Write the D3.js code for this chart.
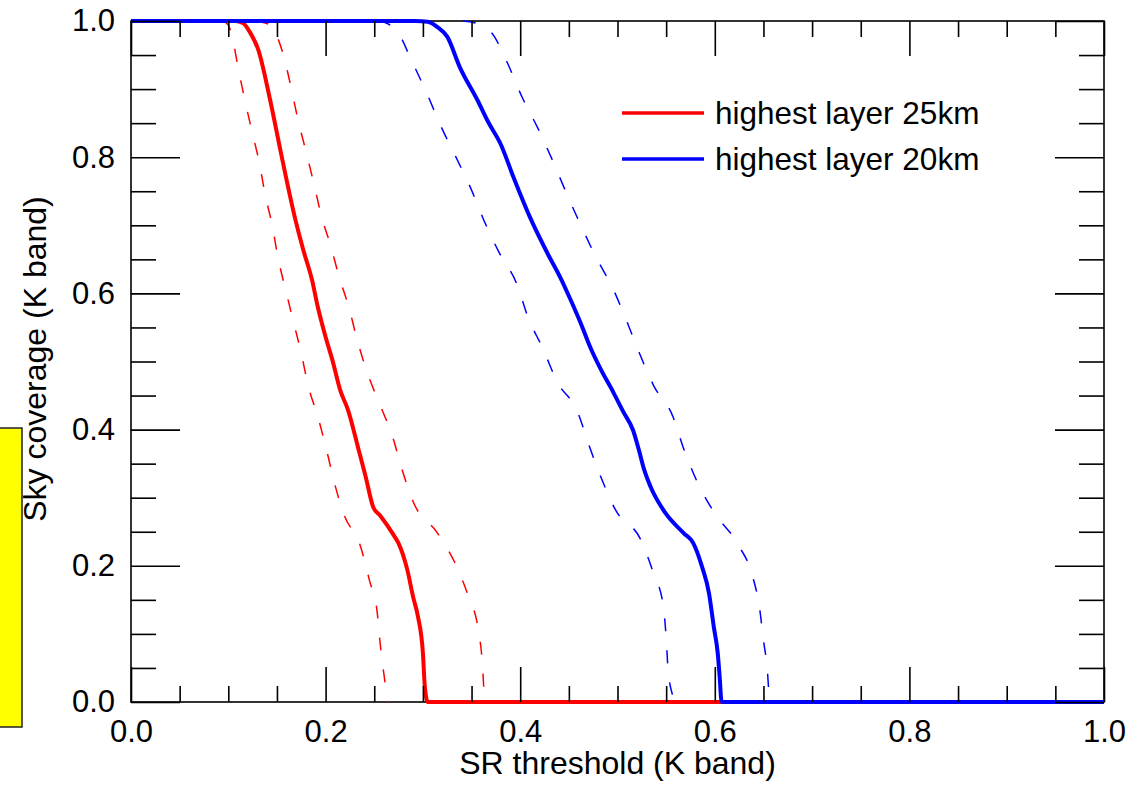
<!DOCTYPE html>
<html>
  <head>
    <script src="https://cdn.jsdelivr.net/npm/d3@7"></script>
    <style>
      body { margin: 0; background: #fff; }
      text { font-family: "Liberation Sans", Arial, Helvetica, sans-serif; fill: #000; }
    </style>
  </head>

  <body>
    <svg width="1137" height="785"></svg>

    <script type="text/javascript">
      // ---- data ----
      var xMajor = [0, 0.2, 0.4, 0.6, 0.8, 1.0];
      var yMajor = [0, 0.2, 0.4, 0.6, 0.8, 1.0];
      var minorTicks = d3.range(0, 1.0001, 0.05).map((d) => +d.toFixed(2));

      // highest layer 25km, median (solid)
      var red25X = [0, 0.107, 0.115, 0.122, 0.131, 0.143, 0.155, 0.169, 0.177, 0.186, 0.192, 0.200,
        0.207, 0.215, 0.223, 0.234, 0.241, 0.249, 0.256, 0.270, 0.275, 0.284, 0.290, 0.295, 0.300,
        0.302, 0.305, 1.0];
      var red25Y = [1, 1, 0.997, 0.984, 0.957, 0.884, 0.800, 0.708, 0.664, 0.620, 0.580, 0.536,
        0.502, 0.458, 0.429, 0.370, 0.332, 0.286, 0.274, 0.245, 0.233, 0.194, 0.154, 0.125, 0.072,
        0.022, 0, 0];
      // highest layer 25km, lower / upper bounds (dashed)
      var red25LoX = [0.094, 0.100, 0.104, 0.110, 0.117, 0.124, 0.132, 0.138, 0.145, 0.151, 0.159,
        0.167, 0.175, 0.182, 0.192, 0.201, 0.209, 0.219, 0.236, 0.245, 0.253, 0.256, 0.260, 0.264];
      var red25LoY = [1, 0.994, 0.977, 0.932, 0.884, 0.840, 0.791, 0.744, 0.701, 0.653, 0.605,
        0.558, 0.512, 0.465, 0.419, 0.370, 0.322, 0.275, 0.228, 0.179, 0.132, 0.087, 0.040, 0];
      var red25HiX = [0.128, 0.138, 0.143, 0.156, 0.164, 0.171, 0.179, 0.187, 0.196, 0.205, 0.214,
        0.224, 0.233, 0.243, 0.256, 0.269, 0.278, 0.290, 0.315, 0.334, 0.347, 0.357, 0.361, 0.363,
        0.365];
      var red25HiY = [1, 0.997, 0.994, 0.953, 0.906, 0.859, 0.813, 0.767, 0.712, 0.671, 0.624,
        0.579, 0.529, 0.483, 0.436, 0.389, 0.344, 0.294, 0.248, 0.201, 0.154, 0.106, 0.059, 0.013, 0];

      // highest layer 20km, median (solid)
      var blue20X = [0, 0.292, 0.305, 0.315, 0.325, 0.338, 0.356, 0.367, 0.380, 0.393, 0.410, 0.428,
        0.441, 0.452, 0.462, 0.472, 0.483, 0.496, 0.506, 0.516, 0.522, 0.527, 0.534, 0.549, 0.568,
        0.578, 0.587, 0.594, 0.599, 0.603, 0.605, 0.607, 1.0];
      var blue20Y = [1, 1, 0.999, 0.991, 0.977, 0.932, 0.884, 0.852, 0.819, 0.771, 0.712, 0.659,
        0.624, 0.590, 0.557, 0.521, 0.488, 0.454, 0.426, 0.399, 0.370, 0.343, 0.316, 0.278, 0.248,
        0.233, 0.198, 0.160, 0.110, 0.072, 0.037, 0, 0];
      // highest layer 20km, lower / upper bounds (dashed)
      var blue20LoX = [0.254, 0.264, 0.275, 0.288, 0.304, 0.318, 0.334, 0.349, 0.364, 0.378, 0.397,
        0.408, 0.423, 0.438, 0.459, 0.470, 0.483, 0.498, 0.524, 0.537, 0.547, 0.550, 0.552, 0.557,
        0.558];
      var blue20LoY = [1, 0.996, 0.982, 0.943, 0.894, 0.847, 0.800, 0.755, 0.703, 0.661, 0.612,
        0.565, 0.520, 0.470, 0.426, 0.380, 0.330, 0.282, 0.238, 0.189, 0.142, 0.095, 0.047, 0.007, 0];
      var blue20HiX = [0.341, 0.354, 0.371, 0.387, 0.402, 0.418, 0.433, 0.447, 0.462, 0.478, 0.495,
        0.509, 0.522, 0.537, 0.557, 0.568, 0.582, 0.599, 0.624, 0.639, 0.646, 0.650, 0.654, 0.656,
        0.657];
      var blue20HiY = [1, 0.997, 0.982, 0.938, 0.888, 0.843, 0.796, 0.749, 0.701, 0.653, 0.608,
        0.561, 0.514, 0.465, 0.419, 0.372, 0.323, 0.279, 0.231, 0.184, 0.138, 0.091, 0.047, 0.007, 0];

      var legendLabels = ["highest layer 25km", "highest layer 20km"];
      var legendColors = ["#ff0000", "#0000ff"];

      // ---- layout ----
      var svg = d3.select("svg");
      var plotL = 131, plotR = 1104, plotT = 21, plotB = 702;

      var xScale = d3.scaleLinear().domain([0, 1]).range([plotL, plotR]);
      var yScale = d3.scaleLinear().domain([0, 1]).range([plotB, plotT]);

      var zip = (xs, ys) => xs.map((x, i) => [x, ys[i]]);
      var lineGenerator = d3
        .line()
        .x((d) => xScale(d[0]))
        .y((d) => yScale(d[1]))
        .curve(d3.curveMonotoneX);

      // little yellow box at the left edge
      svg.append("rect")
        .attr("x", -2)
        .attr("y", 428)
        .attr("width", 24)
        .attr("height", 299)
        .attr("fill", "#ffff00")
        .attr("stroke", "#222")
        .attr("stroke-width", 1.5);

      // frame
      svg.append("rect")
        .attr("x", plotL)
        .attr("y", plotT)
        .attr("width", plotR - plotL)
        .attr("height", plotB - plotT)
        .attr("fill", "none")
        .attr("stroke", "#000")
        .attr("stroke-width", 1.6);

      // curves
      var dashed = [
        [red25LoX, red25LoY, legendColors[0]],
        [red25HiX, red25HiY, legendColors[0]],
        [blue20LoX, blue20LoY, legendColors[1]],
        [blue20HiX, blue20HiY, legendColors[1]],
      ];
      svg.selectAll(".dashed")
        .data(dashed)
        .enter()
        .append("path")
        .attr("class", "dashed")
        .attr("fill", "none")
        .attr("stroke", (d) => d[2])
        .attr("stroke-width", 1.5)
        .attr("stroke-dasharray", "13,19")
        .attr("d", (d) => lineGenerator(zip(d[0], d[1])));

      var solid = [
        [red25X, red25Y, legendColors[0]],
        [blue20X, blue20Y, legendColors[1]],
      ];
      svg.selectAll(".solid")
        .data(solid)
        .enter()
        .append("path")
        .attr("class", "solid")
        .attr("fill", "none")
        .attr("stroke", (d) => d[2])
        .attr("stroke-width", 4)
        .attr("stroke-linejoin", "round")
        .attr("d", (d) => lineGenerator(zip(d[0], d[1])));

      // axes (ticks point inward on all four sides)
      function styleAxis(g) {
        g.select(".domain").remove();
        g.selectAll(".tick line").attr("stroke", "#000").attr("stroke-width", 1.6);
        g.selectAll(".tick text")
          .style("font-family", '"Liberation Sans", Arial, sans-serif')
          .style("font-size", "31px")
          .attr("fill", "#000");
      }
      var fmt = d3.format(".1f");
      var minorOnly = minorTicks.filter((d) => xMajor.indexOf(d) < 0);

      svg.append("g")
        .attr("transform", "translate(0," + plotB + ")")
        .call(d3.axisBottom(xScale).tickValues(xMajor).tickSize(-35).tickPadding(18).tickFormat(fmt))
        .call(styleAxis);
      svg.append("g")
        .attr("transform", "translate(0," + plotB + ")")
        .call(d3.axisBottom(xScale).tickValues(minorOnly).tickSize(-16).tickFormat(""))
        .call(styleAxis);
      svg.append("g")
        .attr("transform", "translate(0," + plotT + ")")
        .call(d3.axisTop(xScale).tickValues(xMajor).tickSize(-35).tickFormat(""))
        .call(styleAxis);
      svg.append("g")
        .attr("transform", "translate(0," + plotT + ")")
        .call(d3.axisTop(xScale).tickValues(minorOnly).tickSize(-16).tickFormat(""))
        .call(styleAxis);

      svg.append("g")
        .attr("transform", "translate(" + plotL + ",0)")
        .call(d3.axisLeft(yScale).tickValues(yMajor).tickSize(-49).tickPadding(16).tickFormat(fmt))
        .call(styleAxis);
      svg.append("g")
        .attr("transform", "translate(" + plotL + ",0)")
        .call(d3.axisLeft(yScale).tickValues(minorOnly).tickSize(-25).tickFormat(""))
        .call(styleAxis);
      svg.append("g")
        .attr("transform", "translate(" + plotR + ",0)")
        .call(d3.axisRight(yScale).tickValues(yMajor).tickSize(-49).tickFormat(""))
        .call(styleAxis);
      svg.append("g")
        .attr("transform", "translate(" + plotR + ",0)")
        .call(d3.axisRight(yScale).tickValues(minorOnly).tickSize(-25).tickFormat(""))
        .call(styleAxis);

      // axis titles
      svg.append("text")
        .attr("x", (plotL + plotR) / 2)
        .attr("y", 774)
        .attr("text-anchor", "middle")
        .style("font-size", "32px")
        .text("SR threshold (K band)");
      svg.append("text")
        .attr("transform", "translate(46," + 359 + ") rotate(-90)")
        .attr("text-anchor", "middle")
        .style("font-size", "32px")
        .text("Sky coverage (K band)");

      // legend
      var legend = svg.selectAll(".legend")
        .data(legendLabels)
        .enter()
        .append("g")
        .attr("class", "legend")
        .attr("transform", (d, i) => "translate(622," + (113 + i * 46) + ")");
      legend.append("line")
        .attr("x1", 0)
        .attr("x2", 82)
        .attr("stroke", (d, i) => legendColors[i])
        .attr("stroke-width", 3.5);
      legend.append("text")
        .attr("x", 93)
        .attr("y", 11)
        .style("font-size", "31.5px")
        .text((d) => d);
    </script>
  </body>
</html>
